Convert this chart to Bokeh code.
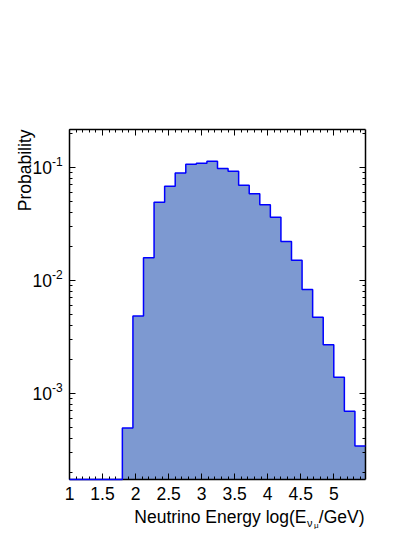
import numpy as np
from bokeh.plotting import figure
from bokeh.models import (Label, LinearAxis, LogAxis, SingleIntervalTicker,
                          FixedTicker, Range1d, CustomLabelingPolicy)
from bokeh.embed import file_html
from bokeh.resources import INLINE

# ---- data ----
bin_edges = [1.00, 1.16, 1.32, 1.48, 1.64, 1.80, 1.96, 2.12, 2.28, 2.44, 2.60,
             2.76, 2.92, 3.08, 3.24, 3.40, 3.56, 3.72, 3.88, 4.04, 4.20, 4.36,
             4.52, 4.68, 4.84, 5.00, 5.16, 5.32, 5.48]
probability = [0, 0, 0, 0, 0, 4.9e-4, 4.8e-3, 0.0158, 0.0489, 0.0676, 0.0888,
               0.106, 0.108, 0.1125, 0.097, 0.0918, 0.069, 0.058, 0.0463,
               0.036, 0.0219, 0.0150, 0.00824, 0.00469, 0.00268, 0.00138,
               6.9e-4, 3.41e-4]
x_ticks_step = 0.5
y_major_ticks = [1e-3, 1e-2, 1e-1]
y_minor_ticks = [2e-4, 3e-4, 4e-4, 5e-4, 6e-4, 7e-4, 8e-4, 9e-4,
                 2e-3, 3e-3, 4e-3, 5e-3, 6e-3, 7e-3, 8e-3, 9e-3,
                 2e-2, 3e-2, 4e-2, 5e-2, 6e-2, 7e-2, 8e-2, 9e-2,
                 2e-1]
y_tick_exponents = ["-3", "-2", "-1"]
x_box = (1.0, 5.48)          # visible axis box (data)
y_box = (1.72e-4, 0.215)

# ---- layout (pixels) ----
W, H = 407, 529
BOX_L, BOX_R, BOX_T, BOX_B = 69, 365, 129, 479

FONT = "Liberation Sans"
FILL = "#7d99d1"
LINE = "#0000ff"

# extend ranges so the plotting frame fills the canvas and the axis box sits inside
pxx = (BOX_R - BOX_L) / (x_box[1] - x_box[0])
x_start = x_box[0] - BOX_L / pxx
x_end = x_box[1] + (W - BOX_R) / pxx
dec = np.log10(y_box[1] / y_box[0])
pxd = (BOX_B - BOX_T) / dec
y_start = y_box[0] / 10 ** ((H - BOX_B) / pxd)
y_end = y_box[1] * 10 ** (BOX_T / pxd)

p = figure(width=W, height=H, x_range=Range1d(x_start, x_end),
           y_range=Range1d(y_start, y_end), y_axis_type="log",
           x_axis_location=None, y_axis_location=None,
           output_backend="svg", toolbar_location=None,
           min_border=0)
p.grid.visible = False
p.outline_line_color = None
p.background_fill_color = "white"
p.border_fill_color = "white"

lo = np.array(bin_edges[:-1])
hi = np.array(bin_edges[1:])
vals = np.maximum(np.array(probability, dtype=float), y_box[0])
xs = np.column_stack([lo, hi]).ravel()
ys = np.repeat(vals, 2)

p.varea(x=xs, y1=np.full_like(ys, y_box[0]), y2=ys, fill_color=FILL)
p.line(xs, ys, line_color=LINE, line_width=1.5, level="overlay")

no_labels = CustomLabelingPolicy(code="return []")

def style_axis(ax, show_labels):
    ax.major_tick_in = 6
    ax.major_tick_out = 0
    ax.minor_tick_in = 3
    ax.minor_tick_out = 0
    ax.axis_line_color = "black"
    ax.axis_line_width = 1.5
    ax.major_tick_line_color = "black"
    ax.minor_tick_line_color = "black"
    ax.major_tick_line_width = 1
    ax.minor_tick_line_width = 1
    if show_labels:
        ax.major_label_text_font = FONT
        ax.major_label_text_font_size = "17.5px"
        ax.major_label_text_color = "black"
        ax.major_label_standoff = 7
    else:
        ax.major_label_policy = no_labels
        ax.major_label_standoff = 0

def xticker():
    return SingleIntervalTicker(interval=x_ticks_step, num_minor_ticks=5)

def yticker():
    return FixedTicker(ticks=y_major_ticks, minor_ticks=y_minor_ticks)

bottom = LinearAxis(ticker=xticker(), fixed_location=y_box[0], bounds=x_box)
style_axis(bottom, True)
p.add_layout(bottom, "below")
top = LinearAxis(ticker=xticker(), fixed_location=y_box[1], bounds=x_box)
style_axis(top, False)
p.add_layout(top, "above")
left = LogAxis(ticker=yticker(), fixed_location=x_box[0], bounds=y_box)
style_axis(left, False)
p.add_layout(left, "left")
right = LogAxis(ticker=yticker(), fixed_location=x_box[1], bounds=y_box)
style_axis(right, False)
p.add_layout(right, "right")

# y tick labels 10^k
for yv, ex in zip(y_major_ticks, y_tick_exponents):
    p.add_layout(Label(x=x_box[0], y=yv, x_offset=-17.5, y_offset=0, text="10",
                       text_align="right", text_baseline="middle",
                       text_font=FONT, text_font_size="17.5px", text_color="black"))
    p.add_layout(Label(x=x_box[0], y=yv, x_offset=-17.5, y_offset=6, text=ex,
                       text_align="left", text_baseline="middle",
                       text_font=FONT, text_font_size="12px", text_color="black"))

# y axis title
p.add_layout(Label(x=x_box[0], y=y_box[1], x_offset=-45, y_offset=0,
                   text="Probability", angle=np.pi / 2, text_align="right",
                   text_baseline="alphabetic", text_font=FONT,
                   text_font_size="17.5px", text_color="black"))

# x axis title (right aligned at the box edge)
xr = x_box[1]
yb = y_box[0]
p.add_layout(Label(x=xr, y=yb, x_offset=-1, y_offset=-37, text="/GeV)",
                   text_align="right", text_baseline="alphabetic",
                   text_font=FONT, text_font_size="17.5px", text_color="black"))
p.add_layout(Label(x=xr, y=yb, x_offset=-51.5, y_offset=-46, text="μ",
                   text_align="left", text_baseline="alphabetic",
                   text_font=FONT, text_font_size="8px", text_color="black"))
p.add_layout(Label(x=xr, y=yb, x_offset=-58.5, y_offset=-43, text="ν",
                   text_align="left", text_baseline="alphabetic",
                   text_font=FONT, text_font_size="11px", text_color="black"))
p.add_layout(Label(x=xr, y=yb, x_offset=-59, y_offset=-37,
                   text="Neutrino Energy log(E",
                   text_align="right", text_baseline="alphabetic",
                   text_font=FONT, text_font_size="17.5px", text_color="black"))

open("out.html", "w").write(file_html(p, INLINE))
